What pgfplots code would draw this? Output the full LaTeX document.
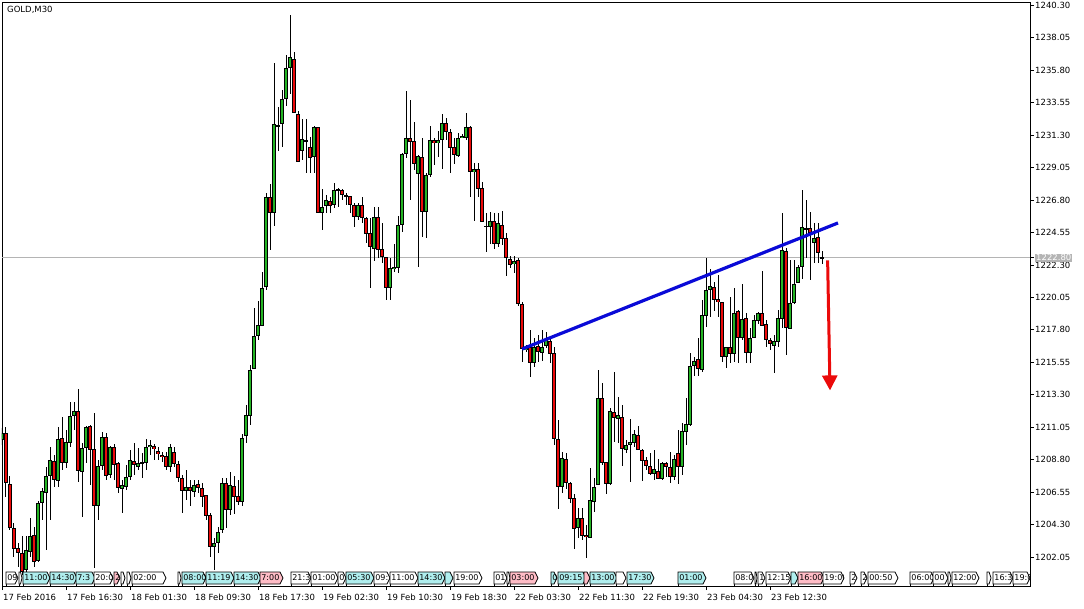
\documentclass[border=0pt]{standalone}
\usepackage{pgfplots}
\pgfplotsset{compat=1.18}
\usepackage{pgfplotstable}
\usepackage{fontspec}
\setmainfont{DejaVu Sans}
\usetikzlibrary{arrows.meta}
\definecolor{cgreen}{RGB}{36,180,36}
\definecolor{cred}{RGB}{235,10,10}
\definecolor{cblue}{RGB}{10,10,215}
\definecolor{scyan}{RGB}{175,238,238}
\definecolor{spink}{RGB}{255,188,198}
\definecolor{pgray}{RGB}{180,180,180}
\newcommand\lab{\fontsize{8.5}{10}\selectfont}
\newcommand\slab{\fontsize{8}{9.5}\selectfont}

% bullish candles (close >= open)
\pgfplotstableread{
k O H L C
0 1210.17 1211.00 1209.82 1210.65
6 1201.15 1203.51 1200.80 1202.54
7 1202.40 1204.76 1202.05 1203.51
9 1201.78 1205.94 1201.71 1205.80
10 1205.80 1206.84 1204.62 1206.63
11 1206.49 1208.29 1202.54 1207.67
12 1207.67 1209.68 1204.62 1208.78
14 1207.32 1211.06 1206.90 1210.24
16 1208.57 1210.86 1208.23 1210.03
17 1209.96 1212.80 1209.68 1211.83
18 1211.83 1212.80 1210.86 1212.18
20 1207.95 1209.96 1204.82 1209.62
21 1209.62 1211.13 1208.57 1211.06
24 1205.59 1208.78 1204.62 1208.36
25 1208.36 1210.72 1208.09 1210.37
27 1207.74 1209.75 1207.53 1209.68
30 1206.77 1207.39 1205.10 1207.04
31 1206.90 1208.43 1206.70 1207.60
32 1207.60 1209.47 1207.39 1208.78
34 1208.29 1209.62 1208.09 1208.57
35 1208.57 1209.26 1207.53 1208.60
36 1208.57 1210.24 1208.09 1209.68
37 1209.68 1210.17 1209.12 1209.82
42 1208.29 1209.89 1207.95 1209.68
46 1206.63 1208.09 1206.01 1206.90
48 1206.56 1207.39 1206.21 1207.04
53 1202.75 1203.37 1201.15 1203.02
54 1203.02 1204.13 1202.33 1203.79
55 1203.93 1207.53 1203.72 1207.18
57 1205.31 1207.95 1204.96 1207.04
60 1205.87 1210.58 1205.59 1210.31
61 1210.44 1212.59 1209.96 1211.90
62 1211.83 1215.37 1211.20 1215.02
63 1215.09 1219.32 1215.09 1217.38
64 1217.38 1219.80 1217.10 1218.14
65 1218.07 1221.81 1218.07 1220.70
66 1220.77 1227.29 1220.57 1227.01
68 1225.90 1236.30 1225.00 1232.07
70 1232.07 1234.43 1230.48 1233.81
71 1233.81 1236.86 1233.32 1235.96
72 1235.96 1239.63 1234.15 1236.72
75 1230.20 1232.42 1229.58 1231.03
76 1230.89 1232.42 1228.68 1230.92
78 1229.79 1231.93 1228.68 1231.86
80 1225.90 1227.57 1224.73 1226.32
81 1226.39 1227.15 1225.90 1226.80
83 1226.46 1227.98 1226.25 1227.50
84 1227.50 1227.64 1226.32 1227.57
89 1225.63 1226.60 1225.42 1226.46
93 1223.41 1226.32 1222.57 1225.63
97 1220.70 1222.78 1219.87 1222.09
98 1222.02 1223.75 1221.81 1222.16
99 1222.09 1225.70 1221.74 1225.07
100 1225.07 1230.06 1224.59 1229.99
101 1229.99 1234.36 1229.72 1231.10
104 1228.61 1229.92 1222.16 1229.85
106 1225.97 1228.68 1224.17 1228.54
107 1228.54 1231.93 1228.40 1230.96
109 1230.76 1231.59 1229.79 1230.96
110 1230.96 1232.77 1228.95 1232.14
114 1229.85 1231.45 1229.79 1231.10
115 1231.10 1231.38 1231.10 1231.24
116 1231.10 1232.84 1230.96 1231.86
118 1228.74 1229.37 1225.35 1228.95
122 1224.93 1225.97 1223.75 1225.35
124 1223.75 1225.90 1223.55 1225.21
128 1222.37 1222.92 1221.74 1222.57
131 1216.41 1216.75 1216.27 1216.55
133 1215.50 1217.24 1215.23 1216.61
135 1216.20 1217.79 1215.64 1216.61
136 1216.68 1217.66 1216.55 1217.10
140 1206.90 1209.33 1206.49 1208.92
144 1204.07 1205.45 1203.37 1204.76
147 1203.37 1208.23 1203.37 1206.01
148 1205.87 1207.53 1205.17 1206.90
149 1207.04 1215.02 1207.04 1213.08
152 1207.11 1212.38 1207.04 1212.18
154 1211.62 1213.15 1209.96 1211.90
156 1209.47 1210.17 1209.26 1209.82
157 1209.82 1211.62 1207.25 1210.03
158 1209.96 1210.86 1209.68 1210.58
163 1207.81 1209.47 1207.39 1208.16
165 1207.46 1208.64 1207.39 1208.57
168 1207.60 1209.12 1207.39 1208.85
170 1208.29 1211.34 1207.74 1210.79
171 1210.72 1213.08 1209.82 1211.27
172 1211.20 1216.20 1211.13 1215.30
173 1215.30 1215.92 1214.60 1215.64
175 1215.02 1219.87 1214.88 1218.83
176 1218.76 1222.78 1218.00 1220.57
177 1220.57 1222.02 1218.69 1220.84
181 1215.92 1216.61 1215.16 1216.61
183 1216.13 1220.70 1215.57 1218.97
185 1217.24 1220.98 1217.10 1218.56
187 1216.20 1217.93 1215.50 1217.24
188 1217.24 1218.83 1217.24 1218.49
189 1218.42 1219.04 1218.21 1218.97
193 1216.68 1217.45 1214.81 1217.03
194 1216.96 1219.18 1216.61 1218.63
195 1218.56 1225.90 1217.93 1223.34
197 1217.86 1222.65 1217.86 1219.66
198 1219.66 1222.65 1219.59 1220.98
199 1221.05 1222.30 1221.05 1222.16
200 1222.16 1227.50 1221.33 1224.93
203 1223.82 1225.21 1222.44 1224.17
205 1222.80 1223.27 1222.37 1222.80
}\bull

% bearish candles (close < open)
\pgfplotstableread{
k O H L C
1 1210.65 1211.06 1206.21 1207.18
2 1207.11 1207.67 1203.93 1204.07
3 1204.07 1204.41 1202.05 1202.61
4 1202.68 1203.02 1201.36 1202.33
5 1202.33 1203.51 1200.80 1201.01
8 1203.58 1204.13 1201.36 1201.71
13 1208.71 1209.12 1206.90 1207.39
15 1210.31 1211.76 1208.09 1208.57
19 1212.18 1213.71 1207.25 1208.02
22 1211.13 1211.20 1207.04 1209.47
23 1209.54 1212.04 1201.30 1205.59
26 1210.37 1210.65 1207.39 1207.67
28 1209.68 1209.89 1207.39 1208.43
29 1208.57 1208.64 1206.49 1206.84
33 1208.71 1209.96 1207.74 1208.43
38 1209.75 1209.89 1208.78 1209.54
39 1209.40 1209.68 1208.78 1209.19
40 1209.12 1209.33 1208.64 1208.98
41 1209.05 1209.33 1208.09 1208.29
43 1209.33 1209.68 1208.29 1208.50
44 1208.50 1208.71 1207.25 1207.53
45 1207.53 1207.74 1205.10 1206.63
47 1206.90 1207.39 1205.59 1206.63
49 1207.11 1207.39 1206.49 1206.84
50 1206.84 1207.18 1205.52 1206.21
51 1206.35 1206.35 1204.62 1204.89
52 1204.96 1205.10 1202.05 1202.75
56 1207.18 1207.53 1204.07 1205.31
58 1206.97 1207.67 1205.03 1206.21
59 1206.28 1207.39 1205.66 1205.87
67 1227.01 1227.91 1223.34 1225.90
69 1232.00 1233.25 1230.20 1231.94
73 1236.58 1237.06 1232.84 1232.84
74 1232.77 1232.97 1229.44 1229.44
77 1230.48 1231.17 1228.68 1229.72
79 1231.86 1231.86 1225.90 1225.90
82 1226.73 1227.01 1225.90 1226.39
85 1227.50 1227.57 1226.80 1227.15
86 1227.15 1227.29 1226.46 1227.08
87 1227.08 1227.08 1225.90 1226.46
88 1226.46 1226.60 1224.93 1225.63
90 1226.46 1227.01 1225.21 1225.56
91 1225.56 1225.63 1223.82 1224.45
92 1224.52 1225.56 1220.70 1223.55
94 1225.63 1226.32 1222.78 1223.34
95 1223.41 1225.21 1222.44 1222.85
96 1222.85 1222.85 1219.87 1220.70
102 1231.10 1233.74 1226.80 1230.82
103 1230.89 1232.21 1228.88 1229.30
105 1229.79 1231.10 1224.24 1225.97
108 1230.96 1231.10 1229.23 1230.76
111 1232.14 1232.49 1230.96 1231.52
112 1231.52 1231.73 1228.68 1230.41
113 1230.48 1231.10 1229.30 1229.92
117 1231.86 1231.93 1227.01 1228.74
119 1228.95 1229.37 1227.01 1227.57
120 1227.64 1228.05 1225.28 1225.28
121 1225.00 1225.90 1223.20 1224.98
123 1225.35 1225.90 1223.41 1223.75
125 1225.07 1226.04 1223.68 1224.10
126 1224.17 1224.52 1221.53 1222.78
127 1222.71 1222.92 1222.09 1222.30
129 1222.65 1222.78 1219.46 1219.59
130 1219.59 1219.73 1215.57 1216.48
132 1216.61 1217.79 1214.53 1215.50
134 1216.68 1217.45 1215.57 1216.27
137 1217.03 1217.17 1215.50 1216.13
138 1216.20 1216.61 1209.82 1210.24
139 1210.24 1211.55 1205.38 1206.90
141 1208.85 1209.26 1206.77 1207.18
142 1207.18 1207.25 1205.80 1206.08
143 1206.15 1206.42 1202.61 1204.00
145 1204.76 1205.45 1203.23 1203.51
146 1203.58 1204.27 1201.98 1203.44
150 1213.08 1214.12 1208.43 1208.57
151 1208.64 1208.64 1206.42 1207.11
153 1212.11 1214.88 1210.03 1211.69
155 1211.76 1212.59 1208.36 1209.54
159 1210.51 1211.13 1209.47 1209.47
160 1209.47 1209.54 1207.32 1208.71
161 1208.78 1208.98 1208.09 1208.36
162 1208.36 1209.26 1207.74 1207.81
164 1208.02 1208.85 1207.46 1207.46
166 1208.57 1208.64 1207.60 1208.29
167 1208.29 1209.33 1207.18 1207.60
169 1209.26 1210.86 1207.11 1208.29
174 1215.78 1217.24 1214.60 1215.09
178 1220.77 1221.12 1219.11 1219.87
179 1219.94 1221.60 1218.69 1219.73
180 1219.73 1219.73 1215.57 1215.92
182 1216.61 1220.08 1215.50 1216.13
184 1219.11 1219.18 1215.50 1217.24
186 1218.63 1218.97 1215.50 1216.20
190 1218.97 1221.88 1218.07 1218.07
191 1218.21 1218.49 1216.61 1217.10
192 1217.10 1217.24 1216.41 1216.82
196 1223.27 1223.48 1216.06 1217.93
201 1224.86 1226.80 1222.78 1224.79
202 1224.86 1225.97 1221.26 1224.52
204 1224.24 1225.21 1222.44 1223.13
}\bear

\pgfplotsset{
  cwick/.style={draw=none, mark=none, forget plot,
    error bars/.cd, y dir=both, y explicit, error mark=none,
    error bar style={draw=black, line width=1pt}},
  cbody/.style={draw=none, mark=none, forget plot,
    error bars/.cd, y dir=both, y explicit, error mark=none,
    error bar style={draw=black, line width=3.3pt}},
  cfill/.style={draw=none, mark=none, forget plot,
    error bars/.cd, y dir=both, y explicit, error mark=none,
    error bar style={draw=#1, line width=1.5pt}},
}

\newcommand\sess[4]{%
  \pgfmathsetmacro\sa{#1}\pgfmathsetmacro\sb{#2}%
  \pgfmathsetmacro\st{min(3,(\sb-\sa)/2)}%
  \pgfmathsetmacro\sc{\sb-\st}%
  \draw[black, line width=0.8pt] (\sa,21.5) -- (\sa,24);
  \filldraw[fill=#3, draw=black, line width=0.8pt] (\sa,24) -- (\sc,24) -- (\sb,30) -- (\sc,36) -- (\sa,36) -- cycle;
  \begin{scope}
    \clip (\sa,24) rectangle (\sb-1,36);
    \node[anchor=west, inner sep=0pt, font=\slab] at (\sa+1.2,30) {#4};
  \end{scope}}

\begin{document}
\begin{tikzpicture}
\fill[white] (0,0) rectangle (1084pt,608pt);
\path[use as bounding box] (0,0) rectangle (1084pt,608pt);
\begin{axis}[
  at={(2pt,22pt)}, anchor=south west, scale only axis,
  width=1028pt, height=584pt,
  xmin=0, xmax=257, ymin=1200.04, ymax=1240.53,
  axis line style={line width=0.8pt, black},
  xtick pos=bottom, ytick pos=right, yticklabel pos=right,
  tick align=outside, major tick length=4pt,
  tick style={line width=0.8pt, black},
  /pgf/number format/fixed, /pgf/number format/fixed zerofill,
  /pgf/number format/precision=2, /pgf/number format/1000 sep={},
  /pgf/number format/assume math mode=true,
  xtick={0,16,...,192},
  xticklabels={17 Feb 2016, 17 Feb 16:30, 18 Feb 01:30, 18 Feb 09:30, 18 Feb 17:30, 19 Feb 02:30, 19 Feb 10:30, 19 Feb 18:30, 22 Feb 03:30, 22 Feb 11:30, 22 Feb 19:30, 23 Feb 04:30, 23 Feb 12:30},
  xticklabel style={anchor=north west, inner sep=0pt, xshift=1pt, yshift=-3.5pt, font=\lab},
  ytick={1202.05,1204.30,1206.55,1208.80,1211.05,1213.30,1215.55,1217.80,1220.05,1222.30,1224.55,1226.80,1229.05,1231.30,1233.55,1235.80,1238.05,1240.30},
  yticklabel style={anchor=west, inner sep=0pt, xshift=1pt, font=\lab},
  extra y ticks={1222.80},
  extra y tick style={yticklabel style={fill=pgray, text=white, inner xsep=1pt, inner ysep=1pt}},
]
\addplot[pgray, line width=0.8pt, forget plot] coordinates {(0,1222.80) (257,1222.80)};

\addplot[cwick] table[x=k, y expr={(\thisrow{H}+\thisrow{L})/2}, y error expr={(\thisrow{H}-\thisrow{L})/2}] {\bull};
\addplot[cwick] table[x=k, y expr={(\thisrow{H}+\thisrow{L})/2}, y error expr={(\thisrow{H}-\thisrow{L})/2}] {\bear};
\addplot[cbody] table[x=k, y expr={(\thisrow{O}+\thisrow{C})/2}, y error expr={max(abs(\thisrow{C}-\thisrow{O})/2,0.035)}] {\bull};
\addplot[cbody] table[x=k, y expr={(\thisrow{O}+\thisrow{C})/2}, y error expr={max(abs(\thisrow{C}-\thisrow{O})/2,0.035)}] {\bear};
\addplot[cfill=cgreen] table[x=k, y expr={(\thisrow{O}+\thisrow{C})/2}, y error expr={max(abs(\thisrow{C}-\thisrow{O})/2-0.065,0)}] {\bull};
\addplot[cfill=cred] table[x=k, y expr={(\thisrow{O}+\thisrow{C})/2}, y error expr={max(abs(\thisrow{C}-\thisrow{O})/2-0.065,0)}] {\bear};

% trend line
\addplot[cblue, line width=3.2pt, forget plot] coordinates {(130,1216.47) (209,1225.21)};
% arrow
\addplot[cred, line width=3pt, forget plot, -{Triangle[width=15pt,length=15pt]}] coordinates {(206.4,1222.62) (207.0,1213.60)};
\end{axis}

\node[anchor=west, inner sep=0pt, font=\lab] at (7pt,598pt) {GOLD,M30};

\begin{scope}[x=1pt,y=1pt]
\sess{6}{18}{white}{09}
\sess{19}{22}{white}{}
\sess{23}{50}{scyan}{11:00}
\sess{50}{77}{scyan}{14:30}
\sess{76}{95}{scyan}{7:3}
\sess{94}{113}{white}{20:0}
\sess{114}{120}{spink}{2}
\sess{121}{125}{white}{}
\sess{127}{131}{white}{}
\sess{132}{166}{white}{02:00}
\sess{178}{181}{white}{}
\sess{182}{206}{scyan}{08:00}
\sess{206}{234}{scyan}{11:19}
\sess{234}{261}{scyan}{14:30}
\sess{260}{283}{spink}{7:00}
\sess{291}{311}{white}{21:3}
\sess{311}{338}{white}{01:00}
\sess{338}{346}{white}{0}
\sess{346}{374}{scyan}{05:30}
\sess{374}{390}{white}{09:}
\sess{390}{418}{white}{11:00}
\sess{418}{445}{scyan}{14:30}
\sess{445}{453}{scyan}{}
\sess{454}{482}{white}{19:00}
\sess{494}{507}{white}{01}
\sess{507}{510}{white}{}
\sess{510}{538}{spink}{03:00}
\sess{551}{557}{scyan}{0}
\sess{558}{586}{scyan}{09:15}
\sess{584}{590}{spink}{}
\sess{590}{617}{scyan}{13:00}
\sess{616}{626}{white}{}
\sess{627}{654}{scyan}{17:30}
\sess{678}{706}{scyan}{01:00}
\sess{734}{754}{white}{08:0}
\sess{755}{757}{white}{}
\sess{758}{765}{white}{1}
\sess{766}{791}{white}{12:15}
\sess{791}{798}{scyan}{}
\sess{798}{824}{spink}{16:00}
\sess{823}{844}{white}{19:00}
\sess{850}{857}{white}{2:}
\sess{861}{867}{white}{2}
\sess{868}{898}{white}{00:50}
\sess{910}{934}{white}{06:00}
\sess{933}{948}{white}{00}
\sess{948}{951}{white}{}
\sess{952}{979}{white}{12:00}
\sess{987}{991}{white}{}
\sess{993}{1013}{white}{16:3}
\sess{1013}{1030}{white}{19:0}
\end{scope}
\end{tikzpicture}
\end{document}
